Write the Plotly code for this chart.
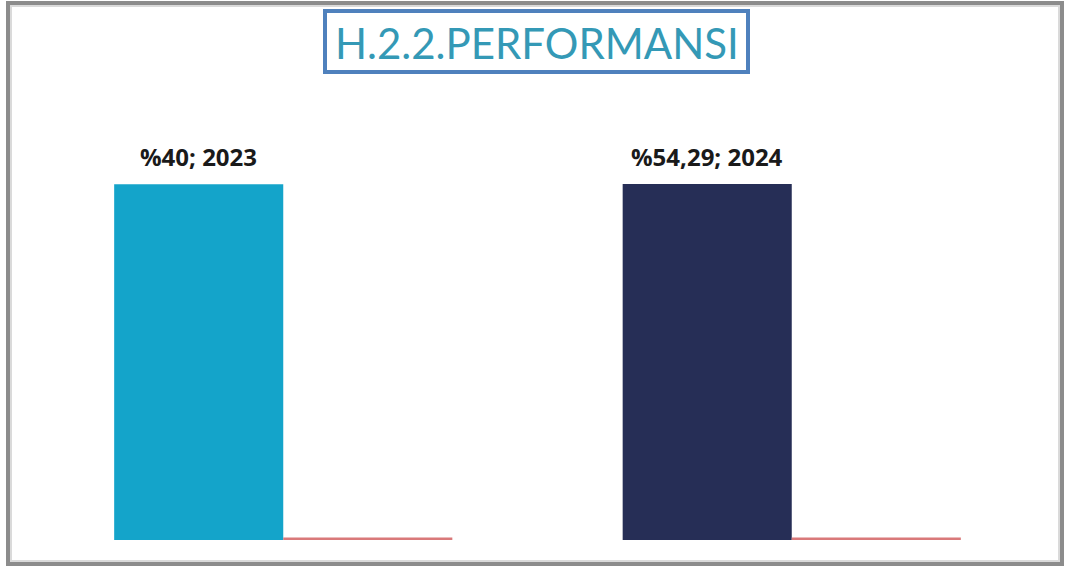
import plotly.graph_objects as go

# ---- data ----
categories = ["%40", "%54,29"]
years = [2023, 2024]            # series 1 (bar heights)
series2 = [0, 0]                # series 2 (zero-valued, drawn as thin red bars)
title_text = "H.2.2.PERFORMANSI"

# ---- style ----
W, H = 1065, 567
ML, MR, MT, MB = 29, 19, 100, 27
BARGAP = 0.335
Y_MAX = 2502
LINE_THICK = 14   # visual minimum thickness (data units) for zero-valued series
bar_colors = ["#14A4CA", "#262E56"]
red = "#D9797A"

fig = go.Figure()
fig.add_trace(go.Bar(
    x=categories, y=years, name="Seri 1",
    marker=dict(color=bar_colors, line=dict(width=0)),
))
fig.add_trace(go.Bar(
    x=categories, y=[v + LINE_THICK for v in series2], name="Seri 2",
    marker=dict(color=red, line=dict(width=0)),
))

# data labels (category; value) above the first series bars
bar_w = (1 - BARGAP) / 2
for i, (c, v) in enumerate(zip(categories, years)):
    fig.add_annotation(
        x=i - bar_w / 2, y=v, xref="x", yref="y",
        text=f"<b>{c}; {v}</b>", showarrow=False,
        yanchor="bottom", yshift=9,
        font=dict(family="Open Sans, sans-serif", size=24, color="#1a1a1a"),
        bgcolor="white",
    )

# pixel -> paper helpers
pw, ph = W - ML - MR, H - MT - MB
def px(xp): return (xp - ML) / pw
def py(yp): return (H - MB - yp) / ph

# outer frame
fig.add_shape(type="rect", xref="paper", yref="paper",
              x0=px(8), x1=px(1062), y0=py(564), y1=py(3),
              line=dict(color="#8c8c8c", width=4), fillcolor="rgba(0,0,0,0)", layer="above")
fig.add_shape(type="rect", xref="paper", yref="paper",
              x0=px(11), x1=px(1059), y0=py(561), y1=py(6),
              line=dict(color="#dadada", width=2), fillcolor="rgba(0,0,0,0)", layer="above")

# title box
fig.add_shape(type="rect", xref="paper", yref="paper",
              x0=px(325), x1=px(748), y0=py(72), y1=py(11),
              line=dict(color="#4F81BD", width=4), fillcolor="white", layer="above")
fig.add_annotation(
    x=px(537), y=py(43), xref="paper", yref="paper",
    text=title_text, showarrow=False, xanchor="center", yanchor="middle",
    font=dict(family="Lato, Open Sans, sans-serif", size=42, color="#3499B6"),
)

fig.update_layout(
    width=W, height=H,
    margin=dict(l=ML, r=MR, t=MT, b=MB),
    paper_bgcolor="white", plot_bgcolor="white",
    barmode="group", bargap=BARGAP, bargroupgap=0,
    showlegend=False,
    xaxis=dict(showticklabels=False, showgrid=False, zeroline=False, showline=False, ticks=""),
    yaxis=dict(range=[0, Y_MAX], showticklabels=False, showgrid=False, zeroline=False,
               showline=False, ticks=""),
)

fig.write_html("out.html", config={"displayModeBar": False},
               post_script="document.body.style.margin='0';document.body.style.overflow='hidden';")
